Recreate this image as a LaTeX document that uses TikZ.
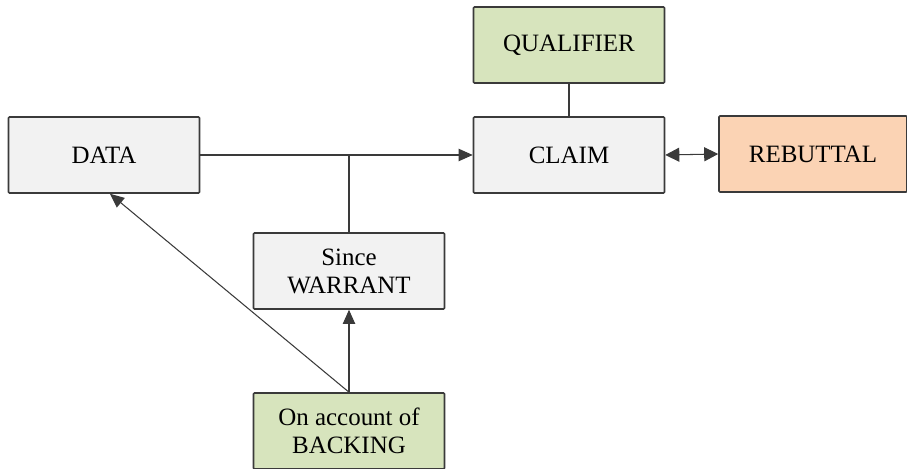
\documentclass[tikz,border=0pt]{standalone}
\usepackage{fontspec}
\newfontfamily\tnr{Liberation Serif}
\usetikzlibrary{arrows.meta}
\definecolor{boxgray}{HTML}{F2F2F2}
\definecolor{boxgreen}{HTML}{D7E4BD}
\definecolor{boxorange}{HTML}{FBD3B4}
\definecolor{edge}{HTML}{3A3A3A}
\begin{document}
\begin{tikzpicture}[x=0.02cm,y=-0.02cm,
  box/.style={draw=edge,line width=0.9pt,rounded corners=0.6pt,minimum width=3.82cm,minimum height=1.52cm,
    inner sep=2pt,align=center,font=\tnr\fontsize{14.2}{16}\selectfont,text=black},
  conn/.style={draw=edge,line width=0.6pt},
  tip/.style={-{Triangle[length=8pt,width=7pt]}}]
\useasboundingbox (0,0) rectangle (907,469);
\node[box,fill=boxgray] (data) at (104,155) {DATA};
\node[box,fill=boxgray] (claim) at (569,155) {CLAIM};
\node[box,fill=boxgreen] (qual) at (569,45) {QUALIFIER};
\node[box,fill=boxorange,minimum width=3.76cm] (reb) at (813,154) {REBUTTAL};
\node[box,fill=boxgray] (war) at (349,271) {Since\\WARRANT};
\node[box,fill=boxgreen,minimum height=1.52cm] (back) at (349,431) {On account of\\BACKING};
\coordinate (j) at (349,155);
\draw[conn,tip] (data.east) -- (claim.west);
\draw[conn] (war.north) -- (j);
\draw[conn] (qual.south) -- (claim.north);
\draw[conn,{Triangle[length=8pt,width=8pt]}-{Triangle[length=8pt,width=8pt]}] (claim.east) -- (reb.west);
\draw[conn,tip] (back.north) -- (war.south);
\draw[conn,tip] (back.north) -- ([xshift=0.12cm]data.south);
\end{tikzpicture}
\end{document}
